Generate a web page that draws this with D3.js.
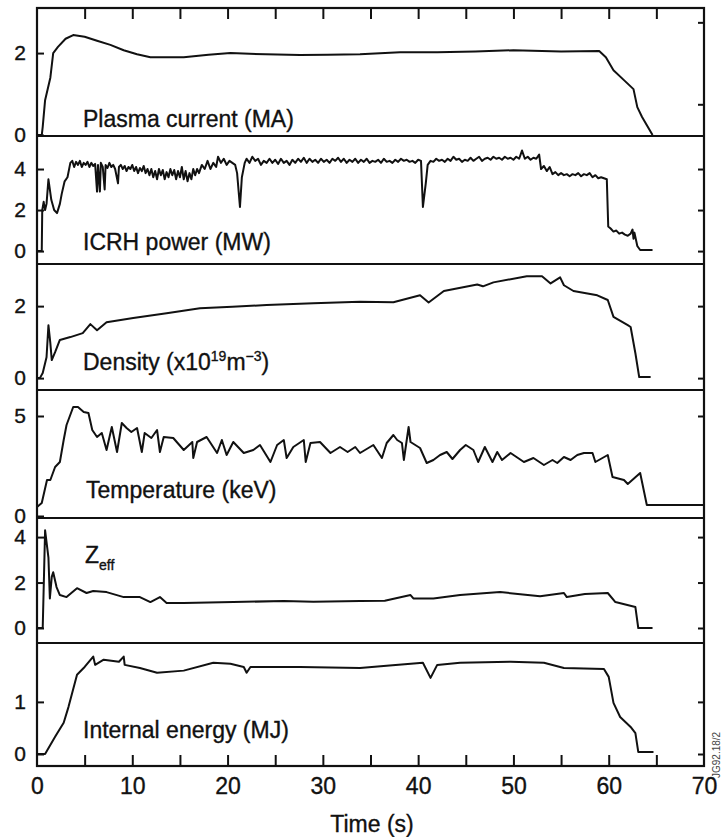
<!DOCTYPE html>
<html>
<head>
<meta charset="utf-8">
<script src="https://cdn.jsdelivr.net/npm/d3@7"></script>
<style>
  body { margin: 0; background: #fff; }
  svg { font-family: "Liberation Sans", Arial, Helvetica, sans-serif; }
  .axis line { stroke: #111; stroke-width: 2; }
  .axis text, .panel-label, .title { fill: #111; stroke: #111; stroke-width: 0.35px; }
  .trace { fill: none; stroke: #111; stroke-width: 2; stroke-linejoin: round; }
  .frame { fill: none; stroke: #111; stroke-width: 2.2; }
  .panel-label { font-size: 23px; }
</style>
</head>
<body>
<svg id="chart" width="722" height="837"></svg>
<script>
// ---- data: [time (s), value] ----
const plasmaCurrent = [
  [0,0],[0.5,0],[0.6,0.2],[0.85,0.85],[1.4,1.4],[1.7,2.0],[2.2,2.15],[3.0,2.35],[3.8,2.44],
  [5.0,2.4],[6.3,2.3],[7.7,2.2],[9.1,2.07],[10.5,1.97],[11.9,1.9],[13.5,1.9],[15.4,1.9],
  [18.0,1.96],[20.3,2.0],[24.0,1.97],[27.6,1.95],[30.5,1.96],[33.9,1.97],[38.1,2.02],
  [42.0,2.02],[46.0,2.04],[50.0,2.07],[53.0,2.05],[55.0,2.04],[59.0,2.05],[59.7,1.9],
  [60.5,1.58],[61.6,1.34],[62.6,1.12],[63.0,0.68],[63.5,0.44],[64.6,0]
];

const icrhPower = [
  [0,0],[0.5,0],[0.55,2.0],[0.7,2.4],[0.85,2.0],[1.0,2.3],[1.2,3.5],[1.5,2.5],[1.8,2.0],[2.1,1.85],
  [2.4,2.3],[2.6,2.8],[2.9,3.4],[3.2,3.6],[3.5,4.3],[3.7,4.4],[3.9,4.1],[4.1,4.35],[4.3,4.2],
  [4.5,4.4],[4.7,4.1],[4.9,4.3],[5.1,4.2],[5.3,4.35],[5.5,4.1],[5.7,4.3],[5.9,4.15],[6.1,4.25],
  [6.3,2.9],[6.4,4.2],[6.6,2.9],[6.7,4.3],[6.9,4.1],[7.1,3.0],[7.2,4.2],[7.4,4.05],[7.6,4.3],
  [7.8,4.1],[8.0,4.2],[8.2,4.0],[8.5,3.3],[8.6,4.1],[8.8,4.2],[9.0,4.0],[9.2,4.15],[9.4,3.9],
  [9.6,4.1],[9.8,4.0],[10.0,4.2],[10.2,3.9],[10.4,4.1],[10.6,3.8],[10.8,4.05],[11.0,3.9],
  [11.2,4.15],[11.4,3.8],[11.6,4.0],[11.8,3.7],[12.0,4.0],[12.2,3.6],[12.4,3.9],[12.6,3.5],
  [12.8,4.0],[13.0,3.7],[13.2,3.95],[13.4,3.5],[13.6,3.85],[13.8,3.6],[14.0,4.0],[14.2,3.7],
  [14.4,3.95],[14.6,3.5],[14.8,3.9],[15.0,3.6],[15.2,4.1],[15.4,3.5],[15.6,3.9],[15.8,3.4],
  [16.0,3.8],[16.2,3.5],[16.4,4.0],[16.6,3.7],[16.8,4.0],[17.0,3.8],[17.3,4.2],[17.6,4.0],
  [17.9,4.4],[18.2,4.0],[18.5,4.3],[18.8,4.1],[19.0,4.6],[19.3,4.3],[19.6,4.5],[19.9,4.2],
  [20.2,4.4],[20.5,4.3],[20.8,4.2],[21.0,3.8],[21.3,2.15],[21.5,3.6],[21.8,4.3],[22.0,4.5],
  [22.3,4.3],[22.6,4.6],[22.9,4.4],[23.2,4.5],[23.5,4.2],[23.8,4.4],[24.1,4.3],[24.4,4.5],
  [24.7,4.3],[25.0,4.45],[25.3,4.25],[25.6,4.5],[25.9,4.3],[26.2,4.4],[26.5,4.2],[26.8,4.45],
  [27.1,4.3],[27.4,4.5],[27.7,4.35],[28.0,4.55],[28.3,4.3],[28.6,4.5],[28.9,4.35],[29.2,4.45],
  [29.5,4.3],[29.8,4.5],[30.1,4.35],[30.4,4.45],[30.7,4.3],[31.0,4.5],[31.3,4.4],[31.6,4.55],
  [31.9,4.35],[32.2,4.5],[32.5,4.3],[32.8,4.45],[33.1,4.35],[33.4,4.5],[33.7,4.3],[34.0,4.45],
  [34.3,4.35],[34.6,4.5],[34.9,4.3],[35.2,4.4],[35.5,4.35],[35.8,4.45],[36.1,4.3],[36.4,4.5],
  [36.7,4.35],[37.0,4.4],[37.3,4.3],[37.6,4.45],[37.9,4.35],[38.2,4.5],[38.5,4.4],[38.8,4.45],
  [39.1,4.35],[39.4,4.4],[39.7,4.3],[40.0,4.45],[40.3,4.4],[40.5,2.15],[40.8,3.3],[41.0,4.2],
  [41.3,4.4],[41.6,4.35],[41.9,4.5],[42.2,4.4],[42.5,4.45],[42.8,4.35],[43.1,4.5],[43.4,4.4],
  [43.7,4.6],[44.0,4.45],[44.3,4.5],[44.6,4.35],[44.9,4.45],[45.2,4.4],[45.5,4.55],[45.8,4.4],
  [46.1,4.5],[46.4,4.6],[46.7,4.4],[47.0,4.5],[47.3,4.55],[47.6,4.45],[47.9,4.6],[48.2,4.5],
  [48.5,4.55],[48.8,4.45],[49.1,4.6],[49.4,4.5],[49.7,4.55],[50.0,4.45],[50.3,4.6],[50.6,4.5],
  [50.9,4.9],[51.2,4.5],[51.5,4.6],[51.8,4.45],[52.1,4.55],[52.4,4.5],[52.7,4.7],[52.9,4.0],
  [53.2,4.15],[53.5,3.9],[53.8,4.1],[54.1,3.75],[54.4,3.85],[54.7,3.7],[55.0,3.8],[55.3,3.7],
  [55.6,3.75],[55.9,3.65],[56.2,3.75],[56.5,3.7],[56.8,3.8],[57.1,3.65],[57.4,3.75],[57.7,3.7],
  [58.0,3.8],[58.3,3.6],[58.6,3.7],[58.9,3.55],[59.2,3.6],[59.5,3.55],[59.8,3.5],[59.95,1.2],
  [60.2,1.1],[60.5,0.95],[60.8,1.0],[61.1,0.85],[61.4,0.9],[61.7,0.8],[62.0,0.75],[62.3,0.85],
  [62.5,1.05],[62.6,0.6],[62.7,0.9],[63.0,0.25],[63.3,0.05],[64.6,0.05]
];

const density = [
  [0,0],[0.3,0],[0.6,0.14],[1.0,0.58],[1.2,1.47],[1.4,0.97],[1.55,0.5],[1.9,0.72],[2.4,1.06],
  [3.5,1.14],[4.8,1.25],[5.6,1.5],[6.3,1.33],[7.3,1.55],[10.1,1.67],[13.6,1.8],[17.1,1.94],
  [20.5,1.98],[24.1,2.03],[29.0,2.08],[33.9,2.12],[37.4,2.11],[40.2,2.3],[41.1,2.1],[42.7,2.42],
  [46.2,2.6],[46.8,2.55],[47.9,2.66],[51.4,2.83],[53.0,2.83],[53.9,2.63],[54.9,2.8],[55.3,2.58],
  [56.3,2.42],[58.8,2.3],[59.9,2.17],[60.5,1.7],[62.0,1.47],[62.3,1.42],[62.8,0.69],[63.2,0.03],
  [64.4,0.03]
];

const temperature = [
  [0,0.45],[0.5,0.65],[1.05,1.8],[1.4,1.8],[1.9,2.45],[2.4,2.7],[2.8,3.8],[3.1,4.55],[3.8,5.45],
  [4.3,5.45],[4.9,5.2],[5.4,5.15],[5.8,4.3],[6.3,3.95],[6.8,4.15],[7.3,3.3],[7.85,4.45],
  [8.4,3.2],[8.9,4.65],[9.4,4.4],[9.9,4.2],[10.5,4.4],[11.0,3.2],[11.3,4.15],[12.0,3.9],
  [12.6,4.3],[12.9,3.2],[13.3,3.95],[14.3,3.9],[15.4,3.3],[16.3,3.7],[16.4,2.9],[16.8,3.7],
  [17.8,3.95],[18.9,3.15],[19.4,3.8],[19.9,3.05],[20.6,3.7],[21.7,3.15],[22.7,3.3],[23.4,3.55],
  [24.5,2.7],[25.2,3.55],[25.9,3.8],[26.2,2.9],[26.9,3.45],[28.0,3.8],[28.2,2.7],[28.7,3.65],
  [29.7,3.7],[30.8,3.15],[31.8,3.45],[32.6,3.2],[33.4,3.45],[33.9,3.15],[35.3,3.55],[36.2,2.9],
  [36.7,3.65],[37.4,4.05],[37.8,3.8],[38.3,3.65],[38.5,2.8],[39.0,4.45],[39.2,3.7],[40.2,3.4],
  [40.9,2.65],[41.6,2.8],[42.3,3.05],[43.0,3.2],[43.6,2.85],[44.4,3.3],[45.0,3.55],[45.8,3.3],
  [46.3,2.7],[47.0,3.45],[47.8,2.7],[48.3,3.2],[48.8,2.8],[49.7,3.15],[51.1,2.7],[52.1,2.9],
  [53.2,2.55],[54.1,2.8],[54.6,2.65],[55.3,2.95],[56.0,2.8],[56.7,3.05],[57.4,3.15],[58.3,3.15],
  [58.6,2.7],[59.9,3.05],[60.4,1.95],[61.6,1.8],[62.0,1.6],[63.3,2.15],[64.0,0.55],[70,0.55]
];

const zEff = [
  [0,0],[0.6,0],[0.85,4.3],[1.2,3.1],[1.35,1.3],[1.55,2.25],[1.7,2.45],[2.05,1.8],[2.4,1.45],
  [3.1,1.36],[4.2,1.75],[5.2,1.54],[5.9,1.63],[7.3,1.58],[9.1,1.36],[10.8,1.36],[11.9,1.14],
  [12.9,1.36],[13.6,1.1],[15.4,1.1],[18.0,1.12],[20.6,1.14],[25.9,1.19],[29.0,1.16],[33.9,1.19],
  [36.5,1.2],[39.2,1.45],[39.5,1.3],[41.6,1.3],[44.4,1.45],[48.6,1.58],[52.8,1.4],[55.3,1.54],
  [55.6,1.36],[57.5,1.5],[59.9,1.54],[60.7,1.14],[62.8,0.92],[63.1,0],[64.6,0]
];

const internalEnergy = [
  [0,0],[0.85,0],[1.9,0.33],[2.8,0.6],[3.3,0.9],[4.2,1.52],[5.0,1.67],[5.9,1.87],[6.1,1.71],
  [7.0,1.81],[8.6,1.77],[9.1,1.87],[9.2,1.71],[10.8,1.65],[12.6,1.56],[15.4,1.6],[18.5,1.75],
  [20.3,1.73],[21.7,1.67],[22.0,1.56],[22.4,1.67],[27.6,1.67],[33.9,1.65],[37.0,1.7],[40.5,1.75],
  [41.3,1.46],[42.0,1.71],[44.4,1.75],[49.7,1.77],[53.2,1.75],[55.3,1.65],[59.5,1.63],[60.0,1.48],
  [60.5,0.98],[61.2,0.71],[62.3,0.52],[62.8,0.4],[63.1,0.04],[64.7,0.04]
];

const timeLabels = [0, 10, 20, 30, 40, 50, 60, 70];
const timeMinorTicks = [5, 10, 15, 20, 25, 30, 35, 40, 45, 50, 55, 60, 65];

// ---- layout ----
const left = 37, right = 704;
const bands = [8, 136, 264, 390, 518, 643, 766];

const panels = [
  { data: plasmaCurrent,  domain: [-0.024, 3.10], ticks: [0, 2],    rightTicks: [0.75, 2.75], labelY: 127 },
  { data: icrhPower,      domain: [-0.63, 5.61],  ticks: [0, 2, 4], rightTicks: [0, 2, 4],    labelY: 250 },
  { data: density,        domain: [-0.33, 3.17],  ticks: [0, 2],    rightTicks: [0, 2],       labelY: 370 },
  { data: temperature,    domain: [-0.1, 6.3],    ticks: [0, 5],    rightTicks: [5],          labelY: 498 },
  { data: zEff,           domain: [-0.66, 4.84],  ticks: [0, 2, 4], rightTicks: [0, 2, 4],    labelY: 563 },
  { data: internalEnergy, domain: [-0.23, 2.13],  ticks: [0, 1],    rightTicks: [0, 1],       labelY: 738 }
];

const svg = d3.select('#chart');
const x = d3.scaleLinear().domain([0, 70]).range([left, right]);

panels.forEach((p, i) => {
  const y = d3.scaleLinear().domain(p.domain).range([bands[i + 1], bands[i]]);
  const g = svg.append('g');

  g.append('path')
      .datum(p.data)
      .attr('class', 'trace')
      .attr('d', d3.line().x(d => x(d[0])).y(d => y(d[1])));

  const la = g.append('g')
      .attr('class', 'axis')
      .attr('transform', `translate(${left},0)`)
      .call(d3.axisLeft(y).tickValues(p.ticks).tickSize(-7).tickPadding(11).tickFormat(d3.format('d')));
  la.select('.domain').remove();
  la.selectAll('text').style('font-size', '21px');

  const ra = g.append('g')
      .attr('class', 'axis')
      .attr('transform', `translate(${right},0)`)
      .call(d3.axisRight(y).tickValues(p.rightTicks).tickSize(-6).tickFormat(''));
  ra.select('.domain').remove();
});

// panel labels
const labels = svg.append('g').attr('class', 'panel-label');
const lx = 83;
labels.append('text').attr('x', lx).attr('y', panels[0].labelY).text('Plasma current (MA)');
labels.append('text').attr('x', lx).attr('y', panels[1].labelY).text('ICRH power (MW)');
const dens = labels.append('text').attr('x', lx).attr('y', panels[2].labelY);
dens.append('tspan').text('Density (x10');
dens.append('tspan').attr('dy', -9).style('font-size', '14px').text('19');
dens.append('tspan').attr('dy', 9).text('m');
dens.append('tspan').attr('dy', -9).style('font-size', '14px').text('\u22123');
dens.append('tspan').attr('dy', 9).text(')');
labels.append('text').attr('x', 86).attr('y', panels[3].labelY).text('Temperature (keV)');
const z = labels.append('text').attr('x', 85).attr('y', panels[4].labelY);
z.append('tspan').text('Z');
z.append('tspan').attr('dy', 7).style('font-size', '14px').text('eff');
labels.append('text').attr('x', lx).attr('y', panels[5].labelY).text('Internal energy (MJ)');

// frame and panel separators
svg.append('rect')
    .attr('class', 'frame')
    .attr('x', left).attr('y', bands[0])
    .attr('width', right - left).attr('height', bands[6] - bands[0]);
svg.selectAll('.sep')
    .data(bands.slice(1, 6))
  .join('line')
    .attr('class', 'frame')
    .attr('x1', left).attr('x2', right)
    .attr('y1', d => d).attr('y2', d => d);

// time axes
const bottomMinor = svg.append('g')
    .attr('class', 'axis')
    .attr('transform', `translate(0,${bands[6]})`)
    .call(d3.axisBottom(x).tickValues(timeMinorTicks).tickSize(-11).tickFormat(''));
bottomMinor.select('.domain').remove();

const topMinor = svg.append('g')
    .attr('class', 'axis')
    .attr('transform', `translate(0,${bands[0]})`)
    .call(d3.axisTop(x).tickValues(timeMinorTicks).tickSize(-11).tickFormat(''));
topMinor.select('.domain').remove();

const bottomLabels = svg.append('g')
    .attr('class', 'axis')
    .attr('transform', `translate(0,${bands[6]})`)
    .call(d3.axisBottom(x).tickValues(timeLabels).tickSize(0).tickPadding(12));
bottomLabels.select('.domain').remove();
bottomLabels.selectAll('text').style('font-size', '23px');

svg.append('text')
    .attr('class', 'title')
    .attr('x', 372).attr('y', 832)
    .attr('text-anchor', 'middle')
    .style('font-size', '23px')
    .text('Time (s)');

svg.append('text')
    .attr('transform', 'translate(720,778) rotate(-90)')
    .style('font-size', '10px')
    .style('fill', '#444')
    .text('JG92.18/2');
</script>
</body>
</html>
